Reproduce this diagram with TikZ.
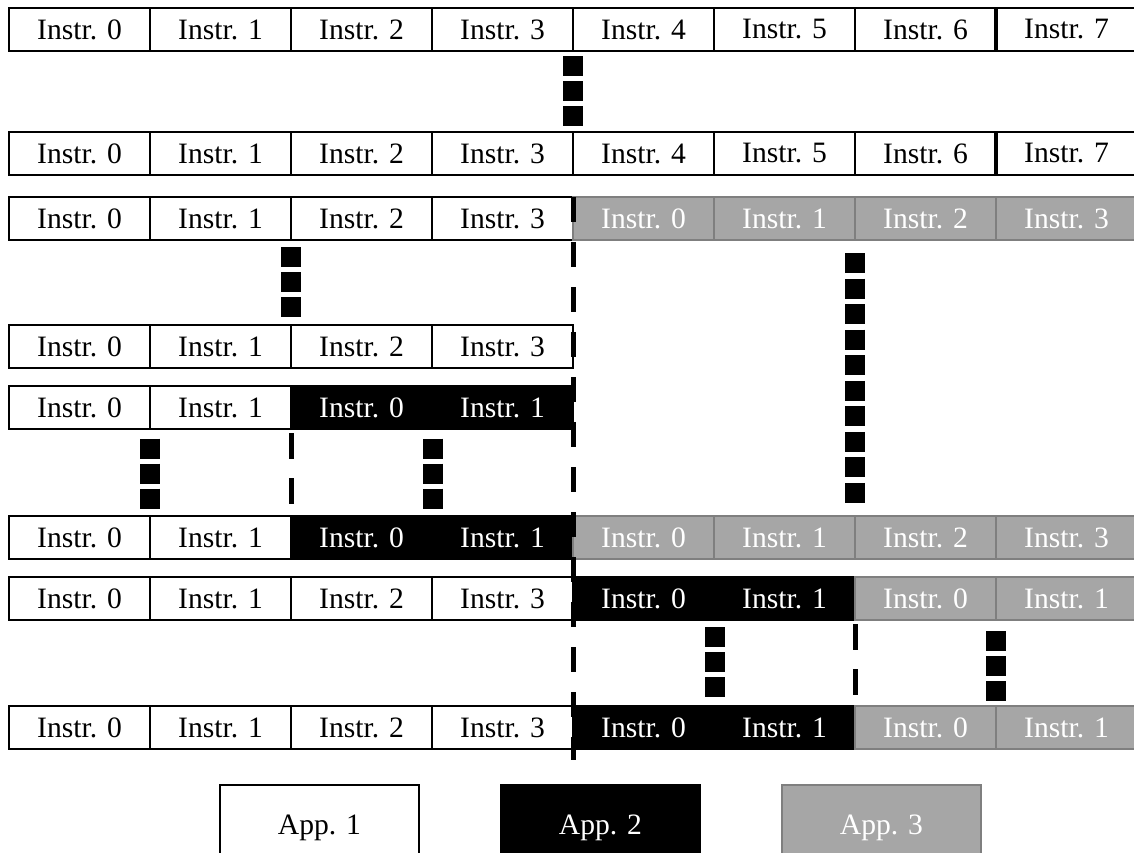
\documentclass[tikz,border=0pt]{standalone}
\usepackage{fontspec}
\setmainfont{Liberation Serif}
\definecolor{gfill}{HTML}{A6A6A6}
\definecolor{gbord}{HTML}{7F7F7F}
\newcommand\cellseg[5]{%
  \foreach \c in {#3,...,#4}{%
    \pgfmathtruncatemacro\k{\c-#3}%
    \node[#5] (r#1c\c) at ({9+141*(\c-1)},#2) {Instr. \k};}}
\begin{document}
\begin{tikzpicture}[x=1pt,y=-1pt,
  cell/.style={minimum width=141pt,minimum height=43pt,inner sep=0pt,outer sep=0pt,
    anchor=north west,line width=2.6pt,font=\fontsize{29.6}{34}\selectfont},
  wcell/.style={cell,draw=black,fill=white,text=black},
  bcell/.style={cell,draw=black,fill=black,text=white},
  gcell/.style={cell,draw=gbord,fill=gfill,text=white},
  sep/.style={line width=5pt,dash pattern=on 25pt off 20pt},
  vdots/.style={line width=20pt,dash pattern=on 20pt off 5pt},
  legend/.style={minimum width=199pt,minimum height=85pt,anchor=north west,
    inner sep=0pt,outer sep=0pt,line width=2.6pt,font=\fontsize{29.6}{34}\selectfont}]
\useasboundingbox (0,0) rectangle (1134,852);
\clip (0,0) rectangle (1134,852);
% rows of cells
\cellseg{1}{8}{1}{8}{wcell}
\cellseg{2}{132}{1}{8}{wcell}
\cellseg{3}{197}{1}{4}{wcell}
\cellseg{3}{197}{5}{8}{gcell}
\cellseg{4}{325}{1}{4}{wcell}
\cellseg{5}{386}{1}{2}{wcell}
\cellseg{5}{386}{3}{4}{bcell}
\cellseg{6}{516}{1}{2}{wcell}
\cellseg{6}{516}{3}{4}{bcell}
\cellseg{6}{516}{5}{8}{gcell}
\cellseg{7}{577}{1}{4}{wcell}
\cellseg{7}{577}{5}{6}{bcell}
\cellseg{7}{577}{7}{8}{gcell}
\cellseg{8}{706}{1}{4}{wcell}
\cellseg{8}{706}{5}{6}{bcell}
\cellseg{8}{706}{7}{8}{gcell}
% slightly heavier border before Instr. 7
\draw[line width=4.2pt] (r1c8.north west) -- (r1c8.south west);
\draw[line width=4.2pt] (r2c8.north west) -- (r2c8.south west);
% dashed separators
\coordinate (sepend) at (573,760);
\draw[sep] (r3c5.north west) -- (sepend);
\draw[sep,dash pattern=on 26pt off 19pt] ([yshift=-4pt]r5c3.south west) -- (r6c3.north west);
\draw[sep,dash pattern=on 26pt off 19pt] ([yshift=-4pt]r7c7.south west) -- (r8c7.north west);
% vertical ellipses (stacked squares)
\draw[vdots] ([yshift=-5pt]r1c5.south west) -- ([yshift=6pt]r2c5.north west);
\draw[vdots] ([yshift=-7pt]r3c3.south west) -- ([yshift=8pt]r4c3.north west);
\draw[vdots,dash pattern=on 20pt off 5.55pt] ([yshift=-13pt]r3c7.south west) -- ([yshift=13pt]r6c7.north west);
\draw[vdots] ([yshift=-9.5pt]r5c2.south west) -- ([yshift=7pt]r6c2.north west);
\draw[vdots] ([xshift=1pt,yshift=-9.5pt]r5c4.south west) -- ([xshift=1pt,yshift=7pt]r6c4.north west);
\draw[vdots] ([xshift=1pt,yshift=-7pt]r7c6.south west) -- ([xshift=1pt,yshift=9pt]r8c6.north west);
\draw[vdots] ([yshift=-11pt]r7c8.south west) -- ([yshift=5pt]r8c8.north west);
% legend
\node[legend,draw=black,fill=white,text=black] (app1) at (220,785) {App. 1};
\node[legend,draw=black,fill=black,text=white] (app2) at (501,785) {App. 2};
\node[legend,draw=gbord,fill=gfill,text=white] (app3) at (782,785) {App. 3};
\end{tikzpicture}
\end{document}
